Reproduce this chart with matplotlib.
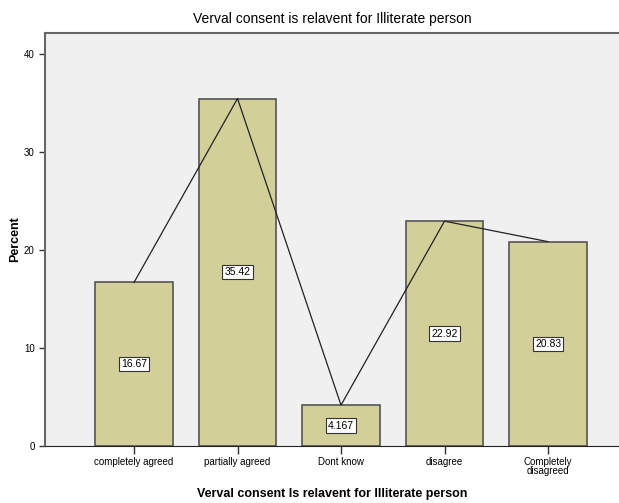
import numpy as np
from matplotlib import pyplot as plt

plt.rcParams['font.family'] = ['Liberation Sans', 'DejaVu Sans']

categories = ['completely agreed', 'partially agreed', 'Dont know', 'disagree', 'Completely\ndisagreed']
percent = [16.67, 35.42, 4.167, 22.92, 20.83]
labels = ['16.67', '35.42', '4.167', '22.92', '20.83']
yticks = [0, 10, 20, 30, 40]

fig = plt.figure(figsize=(6.19, 5.03), dpi=100)
ax = fig.add_axes([45/619, 1-446/503, 1-45/619, (446-33)/503])
ax.set_facecolor('#f0f0f0')

x = np.arange(len(categories))
ax.bar(x, percent, width=0.745, color='#d3cf98', edgecolor='#555555', linewidth=1.2, zorder=2)
ax.plot(x, percent, color='#222222', linewidth=0.9, zorder=3)

for xi, v, t in zip(x, percent, labels):
    ax.text(xi, v/2, t, ha='center', va='center', fontsize=7.5, zorder=4,
            bbox=dict(boxstyle='square,pad=0.2', facecolor='white', edgecolor='#333333', linewidth=0.8))

ax.set_xlim(-0.86, 4.686)
ax.set_ylim(0, 42.1)
ax.set_xticks(x)
ax.set_xticklabels(categories, fontsize=7, linespacing=0.8)
ax.set_yticks(yticks)
ax.tick_params(axis='y', labelsize=7, length=4, width=1, color='#333333')
ax.tick_params(axis='x', length=6, width=1, color='#333333', pad=2)

for s in ['left', 'top']:
    ax.spines[s].set_color('#666666')
    ax.spines[s].set_linewidth(1.5)
ax.spines['bottom'].set_color('#222222')
ax.spines['right'].set_visible(False)

fig.text(15/619, 1-239/503, 'Percent', rotation=90, ha='center', va='center', fontsize=9, fontweight='bold')
fig.text(332/619, 1-494/503, 'Verval consent Is relavent for Illiterate person', ha='center', va='center',
         fontsize=9, fontweight='bold')
fig.text(332/619, 1-19/503, 'Verval consent is relavent for Illiterate person', ha='center', va='center',
         fontsize=10)

fig.savefig('out.png', dpi=100, facecolor='white')
